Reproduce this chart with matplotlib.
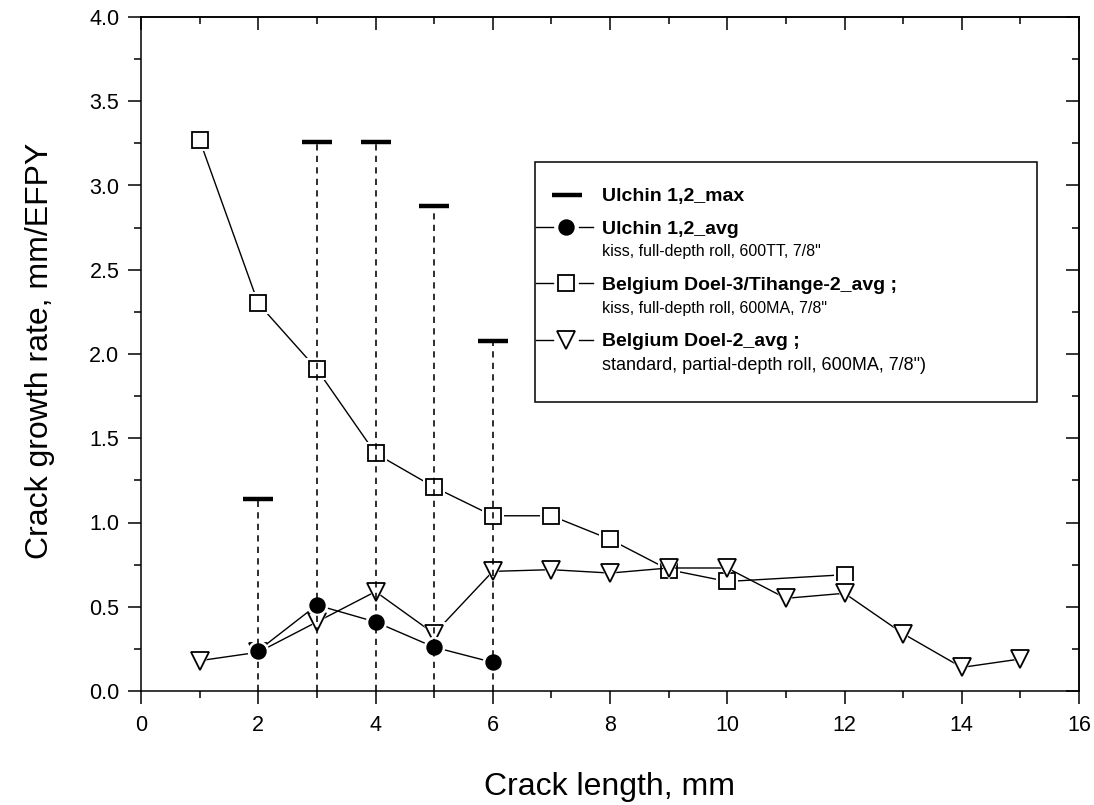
import matplotlib
matplotlib.use("Agg")
import matplotlib.pyplot as plt
from matplotlib.ticker import MultipleLocator, FormatStrFormatter
from matplotlib.patches import Rectangle

plt.rcParams['font.family'] = ['Liberation Sans', 'DejaVu Sans']

# ---------------- data ----------------
x_max = [2, 3, 4, 5, 6]
y_max = [1.14, 3.26, 3.26, 2.88, 2.08]

x_avg = [2, 3, 4, 5, 6]
y_avg = [0.24, 0.51, 0.41, 0.26, 0.17]

x_d3 = [1, 2, 3, 4, 5, 6, 7, 8, 9, 10, 12]
y_d3 = [3.27, 2.30, 1.91, 1.41, 1.21, 1.04, 1.04, 0.90, 0.72, 0.65, 0.69]

x_d2 = [1, 2, 3, 4, 5, 6, 7, 8, 9, 10, 11, 12, 13, 14, 15]
y_d2 = [0.18, 0.23, 0.41, 0.59, 0.34, 0.71, 0.72, 0.70, 0.73, 0.73, 0.55, 0.58, 0.34, 0.14, 0.19]

legend_labels = ["Ulchin 1,2_max",
                 "Ulchin 1,2_avg",
                 "kiss, full-depth roll, 600TT, 7/8\"",
                 "Belgium Doel-3/Tihange-2_avg ;",
                 "kiss, full-depth roll, 600MA, 7/8\"",
                 "Belgium Doel-2_avg ;",
                 "standard, partial-depth roll, 600MA, 7/8\")"]

xlabel = "Crack length, mm"
ylabel = "Crack growth rate, mm/EFPY"

# ---------------- figure ----------------
W, H = 1094, 805
fig = plt.figure(figsize=(W / 100, H / 100), dpi=100)
L, R, T, B = 141, 1079, 17, 691
ax = fig.add_axes([L / W, 1 - B / H, (R - L) / W, (B - T) / H])
ax.set_xlim(0, 16)
ax.set_ylim(0, 4.0)

lw = 1.0
# dashed drop lines from max to axis
ax.vlines(x_max, 0, y_max, colors='black', linestyles=(0, (3.9, 3.3)), linewidth=1.15, zorder=8)
ax.plot(x_max, y_max, linestyle='none', marker='_', markersize=21, markeredgewidth=3.2,
        color='black', zorder=9)


def series(x, y, marker, ms, face, z):
    ax.plot(x, y, color='black', linewidth=lw, zorder=z)
    ax.plot(x, y, linestyle='none', marker=marker, markersize=ms + 5,
            markerfacecolor='white', markeredgecolor='white', markeredgewidth=0, zorder=z + 0.1)
    ax.plot(x, y, linestyle='none', marker=marker, markersize=ms,
            markerfacecolor=face, markeredgecolor='black', markeredgewidth=1.3, zorder=z + 0.2)


series(x_d3, y_d3, 's', 11.5, 'none', 3)
series(x_d2, y_d2, 'v', 12.5, 'none', 4)
series(x_avg, y_avg, 'o', 10.5, 'black', 5)

# ticks
ax.xaxis.set_major_locator(MultipleLocator(2))
ax.xaxis.set_minor_locator(MultipleLocator(1))
ax.yaxis.set_major_locator(MultipleLocator(0.5))
ax.yaxis.set_minor_locator(MultipleLocator(0.25))
ax.yaxis.set_major_formatter(FormatStrFormatter('%.1f'))
ax.tick_params(which='both', direction='out', width=1.1, top=False, right=False)
ax.tick_params(which='major', length=9.5)
ax.tick_params(which='minor', length=5)
ax.tick_params(axis='x', which='major', labelsize=15.5, pad=8)
ax.tick_params(axis='y', which='major', labelsize=15.5, pad=6)
for s in ax.spines.values():
    s.set_linewidth(1.1)

secx = ax.secondary_xaxis('top')
secx.xaxis.set_major_locator(MultipleLocator(2))
secx.xaxis.set_minor_locator(MultipleLocator(1))
secx.tick_params(which='both', direction='in', width=1.1, labeltop=False)
secx.tick_params(which='major', length=9.5)
secx.tick_params(which='minor', length=5)
secx.spines['top'].set_linewidth(1.1)

secy = ax.secondary_yaxis('right')
secy.yaxis.set_major_locator(MultipleLocator(0.5))
secy.yaxis.set_minor_locator(MultipleLocator(0.25))
secy.tick_params(which='both', direction='in', width=1.1, labelright=False)
secy.tick_params(which='major', length=9.5)
secy.tick_params(which='minor', length=5)
secy.spines['right'].set_linewidth(1.1)

# axis labels
fig.text(610 / W, 1 - 787 / H, xlabel, ha='center', va='center', fontsize=23)
fig.text(40 / W, 1 - 351 / H, ylabel, ha='center', va='center', rotation=90, fontsize=23)

# ---------------- manual legend ----------------
def fx(px):
    return (px - L) / (R - L)


def fy(py):
    return (B - py) / (B - T)


box = Rectangle((fx(535), fy(402)), fx(1037) - fx(535), fy(162) - fy(402),
                transform=ax.transAxes, facecolor='white', edgecolor='black',
                linewidth=1.1, zorder=20)
ax.add_patch(box)

rows_y = [195, 227, 250, 283, 307, 340, 364]
sizes = [14, 14, 11.5, 14, 11.5, 14, 13]
bold = [True, True, False, True, False, True, False]
text_x = 602
for lab, yy, b, fs in zip(legend_labels, rows_y, bold, sizes):
    ax.text(fx(text_x), fy(yy), lab, transform=ax.transAxes,
            fontsize=fs, fontweight='bold' if b else 'normal',
            ha='left', va='center_baseline', zorder=21)

# handle: max bar
ax.plot([fx(552), fx(582)], [fy(195), fy(195)], transform=ax.transAxes,
        color='black', linewidth=3.2, solid_capstyle='butt', zorder=21, clip_on=False)
# handles: line-marker-line
for yy, mk, ms, face in [(227, 'o', 10.5, 'black'), (283, 's', 11.5, 'none'), (340, 'v', 12.5, 'none')]:
    ax.plot([fx(536), fx(553)], [fy(yy), fy(yy)], transform=ax.transAxes,
            color='black', linewidth=lw, zorder=21, clip_on=False)
    ax.plot([fx(579), fx(593)], [fy(yy), fy(yy)], transform=ax.transAxes,
            color='black', linewidth=lw, zorder=21, clip_on=False)
    ax.plot([fx(566)], [fy(yy)], transform=ax.transAxes, linestyle='none', marker=mk,
            markersize=ms, markerfacecolor=face, markeredgecolor='black',
            markeredgewidth=1.3, zorder=22, clip_on=False)

fig.savefig('out.png', dpi=100)
